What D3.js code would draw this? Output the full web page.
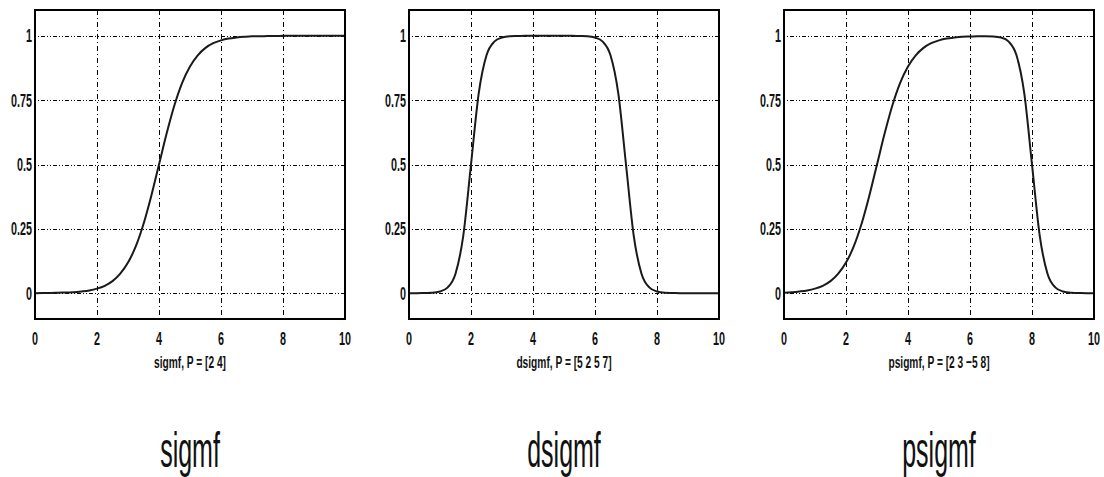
<!DOCTYPE html>
<html>
<head>
<meta charset="utf-8">
<script src="https://cdn.jsdelivr.net/npm/d3@7"></script>
<style>
    body { margin: 0; background: #fff; }
    svg { display: block; }
    .frame { fill: none; stroke: #000; stroke-width: 2; }
    .gridH { stroke: #000; stroke-width: 1; stroke-dasharray: 1,2,1,2,4,2; }
    .gridV { stroke: #000; stroke-width: 1; stroke-dasharray: 5,3,1,3; }
    .curve { fill: none; stroke: #1a1a1a; stroke-width: 2; }
    .tick { font-family: "Liberation Sans", Arial, sans-serif; font-size: 18px; font-weight: bold; fill: #111; }
    .subtitle { font-family: "Liberation Sans", Arial, sans-serif; font-size: 17px; font-weight: bold; fill: #111; }
    .title { font-family: "Liberation Sans", Arial, sans-serif; font-size: 50px; fill: #111; }
</style>
</head>
<body>
<script>
(function(){

    //sample positions along x (shared by all three curves)
    var xValues = [0, 0.25, 0.5, 0.75, 1, 1.25, 1.5, 1.75, 2, 2.25, 2.5, 2.75, 3, 3.25, 3.5, 3.75,
                   4, 4.25, 4.5, 4.75, 5, 5.25, 5.5, 5.75, 6, 6.25, 6.5, 6.75, 7, 7.25, 7.5, 7.75,
                   8, 8.25, 8.5, 8.75, 9, 9.25, 9.5, 9.75, 10];

    //curve values
    var sigmfValues = [0.000, 0.001, 0.001, 0.002, 0.003, 0.004, 0.007, 0.011, 0.018, 0.029, 0.047, 0.076,
                       0.119, 0.182, 0.269, 0.378, 0.500, 0.622, 0.731, 0.818, 0.881, 0.924, 0.953, 0.971,
                       0.982, 0.989, 0.993, 0.996, 0.998, 0.998, 0.999, 0.999, 1.000, 1.000, 1.000, 1.000,
                       1.000, 1.000, 1.000, 1.000, 1.000];
    var dsigmfValues = [0.000, 0.000, 0.001, 0.002, 0.007, 0.023, 0.076, 0.223, 0.500, 0.777, 0.924, 0.977,
                        0.993, 0.998, 0.999, 1.000, 1.000, 1.000, 1.000, 1.000, 1.000, 1.000, 0.999, 0.998,
                        0.993, 0.977, 0.924, 0.777, 0.500, 0.223, 0.076, 0.023, 0.007, 0.002, 0.001, 0.000,
                        0.000, 0.000, 0.000, 0.000, 0.000];
    var psigmfValues = [0.002, 0.004, 0.007, 0.011, 0.018, 0.029, 0.047, 0.076, 0.119, 0.182, 0.269, 0.378,
                        0.500, 0.622, 0.731, 0.818, 0.881, 0.924, 0.953, 0.971, 0.982, 0.989, 0.993, 0.996,
                        0.997, 0.998, 0.998, 0.997, 0.993, 0.977, 0.924, 0.777, 0.500, 0.223, 0.076, 0.023,
                        0.007, 0.002, 0.001, 0.000, 0.000];

    //tick labels
    var xTicks = [0, 2, 4, 6, 8, 10];
    var yTicks = [0, 0.25, 0.5, 0.75, 1];
    var yTickLabels = ["0", "0.25", "0.5", "0.75", "1"];

    //panel texts
    var panelNames = ["sigmf", "dsigmf", "psigmf"];
    var panelSubtitles = ["sigmf, P = [2 4]", "dsigmf, P = [5 2 5 7]", "psigmf, P = [2 3 \u22125 8]"];
    var panelSeries = [sigmfValues, dsigmfValues, psigmfValues];

    window.onload = drawFigure();

    function drawFigure(){
        var width = 1104,
            height = 477;

        var svg = d3.select("body")
            .append("svg")
            .attr("width", width)
            .attr("height", height);

        //left edges of the three axes boxes
        var panelLefts = [35, 409, 784],
            panelWidth = 310,
            panelTop = 10,
            panelBottom = 319;

        for (var i=0; i<panelNames.length; i++){
            drawPanel(svg, panelLefts[i], panelWidth, panelTop, panelBottom, i);
        };
    };

    function drawPanel(svg, left, panelWidth, top, bottom, idx){
        var xScale = d3.scaleLinear()
            .domain([0, 10])
            .range([left, left + panelWidth]);

        var yScale = d3.scaleLinear()
            .domain([-0.1, 1.1])
            .range([bottom, top]);

        var g = svg.append("g").attr("class", "panel");

        //dotted grid, horizontal
        g.selectAll(".gridH")
            .data(yTicks)
            .enter()
            .append("line")
            .attr("class", "gridH")
            .attr("x1", xScale(0))
            .attr("x2", xScale(10))
            .attr("y1", function(d){ return Math.round(yScale(d)) + 0.5; })
            .attr("y2", function(d){ return Math.round(yScale(d)) + 0.5; });

        //dash-dot grid, vertical (inner ticks only)
        g.selectAll(".gridV")
            .data(xTicks.slice(1, -1))
            .enter()
            .append("line")
            .attr("class", "gridV")
            .attr("y1", yScale(1.1))
            .attr("y2", yScale(-0.1))
            .attr("x1", function(d){ return Math.round(xScale(d)) + 0.5; })
            .attr("x2", function(d){ return Math.round(xScale(d)) + 0.5; });

        //the membership curve
        var line = d3.line()
            .x(function(d){ return xScale(d[0]); })
            .y(function(d){ return yScale(d[1]); })
            .curve(d3.curveMonotoneX);

        var pts = xValues.map(function(x, j){
            return [x, panelSeries[idx][j]];
        });

        g.append("path")
            .datum(pts)
            .attr("class", "curve")
            .attr("d", line);

        //axes box
        g.append("rect")
            .attr("class", "frame")
            .attr("x", xScale(0))
            .attr("y", yScale(1.1))
            .attr("width", xScale(10) - xScale(0))
            .attr("height", yScale(-0.1) - yScale(1.1));

        //x tick labels (text squeezed horizontally like the original)
        g.selectAll(".xlab")
            .data(xTicks)
            .enter()
            .append("text")
            .attr("class", "tick")
            .attr("text-anchor", "middle")
            .attr("transform", function(d){
                return "translate(" + xScale(d) + "," + (bottom + 26) + ") scale(0.6,1)";
            })
            .text(function(d){ return d; });

        //y tick labels
        g.selectAll(".ylab")
            .data(yTicks)
            .enter()
            .append("text")
            .attr("class", "tick")
            .attr("text-anchor", "end")
            .attr("transform", function(d){
                return "translate(" + (left - 3) + "," + (yScale(d) + 6.5) + ") scale(0.6,1)";
            })
            .text(function(d, i){ return yTickLabels[i]; });

        var cx = left + panelWidth / 2;

        //x label with parameters
        g.append("text")
            .attr("class", "subtitle")
            .attr("text-anchor", "middle")
            .attr("transform", "translate(" + cx + "," + (bottom + 49) + ") scale(0.6,1)")
            .text(panelSubtitles[idx]);

        //big function name below
        g.append("text")
            .attr("class", "title")
            .attr("text-anchor", "middle")
            .attr("transform", "translate(" + cx + ",467) scale(0.5,1)")
            .text(panelNames[idx]);
    };

})();
</script>
</body>
</html>
